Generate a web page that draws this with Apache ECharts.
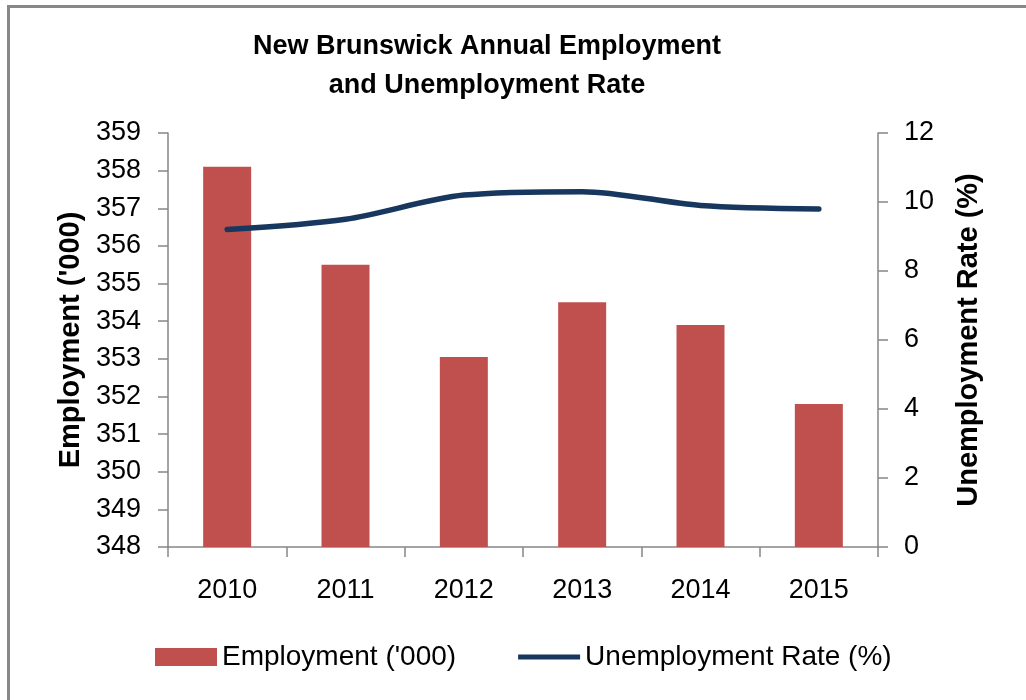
<!DOCTYPE html>
<html><head><meta charset="utf-8">
<script src="https://cdn.jsdelivr.net/npm/echarts@6/dist/echarts.min.js"></script>
<style>
html,body{margin:0;padding:0;background:#fff;overflow:hidden}
#frame{position:absolute;left:7px;top:5px;width:1100px;height:800px;border-left:3px solid #888;border-top:3px solid #888;box-sizing:border-box}
#c{position:absolute;left:0;top:0;width:1026px;height:700px}
</style></head><body>
<div id="frame"></div>
<div id="c"></div>
<script>
const years = ['2010','2011','2012','2013','2014','2015'];
const employment = [358.1, 355.5, 353.05, 354.5, 353.9, 351.8];
const unemploymentRate = [9.2, 9.5, 10.2, 10.3, 9.9, 9.8];
const titleText = 'New Brunswick Annual Employment\nand Unemployment Rate';
const FONT = "'Liberation Sans', Arial, sans-serif";
const axisGrey = '#868686';

const chart = echarts.init(document.getElementById('c'));
chart.setOption({
  animation: false,
  title: {
    text: titleText, left: 482, top: 22, textAlign: 'center',
    textStyle: {fontFamily: FONT, fontSize: 27, fontWeight: 'bold', color: '#000', lineHeight: 39}
  },
  grid: {left: 168, right: 148, top: 133, bottom: 153},
  legend: {
    bottom: 24, left: 150, itemGap: 62, itemWidth: 62, itemHeight: 18,
    textStyle: {fontFamily: FONT, fontSize: 28, color: '#000', padding: [0,0,0,0]},
    data: [
      {name: "Employment ('000)", icon: 'rect'},
      {name: 'Unemployment Rate (%)', icon: 'path://M0,6.5 L62,6.5 L62,11.5 L0,11.5 Z', itemStyle: {color: '#17375E'}}
    ]
  },
  xAxis: {
    type: 'category', data: years,
    axisLine: {lineStyle: {color: axisGrey, width: 1.5}},
    axisTick: {show: true, length: 10, lineStyle: {color: axisGrey, width: 1.5}},
    axisLabel: {fontFamily: FONT, fontSize: 27, color: '#000', margin: 30}
  },
  yAxis: [
    {
      type: 'value', min: 348, max: 359, interval: 1,
      name: "Employment ('000)", nameLocation: 'middle', nameGap: 70,
      nameTextStyle: {fontFamily: FONT, fontSize: 29, fontWeight: 'bold', color: '#000'},
      axisLine: {show: true, lineStyle: {color: axisGrey, width: 1.5}},
      axisTick: {show: true, length: 10, lineStyle: {color: axisGrey, width: 1.5}},
      axisLabel: {fontFamily: FONT, fontSize: 27, color: '#000', margin: 27},
      splitLine: {show: false}
    },
    {
      type: 'value', min: 0, max: 12, interval: 2, position: 'right',
      name: 'Unemployment Rate (%)', nameLocation: 'middle', nameGap: 76, nameRotate: 90,
      nameTextStyle: {fontFamily: FONT, fontSize: 29, fontWeight: 'bold', color: '#000'},
      axisLine: {show: true, lineStyle: {color: axisGrey, width: 1.5}},
      axisTick: {show: true, length: 10, lineStyle: {color: axisGrey, width: 1.5}},
      axisLabel: {fontFamily: FONT, fontSize: 27, color: '#000', margin: 26},
      splitLine: {show: false}
    }
  ],
  series: [
    {
      name: "Employment ('000)", type: 'bar', data: employment, yAxisIndex: 0,
      barWidth: 48, itemStyle: {color: '#C0504D'}
    },
    {
      name: 'Unemployment Rate (%)', type: 'line', data: unemploymentRate, yAxisIndex: 1,
      smooth: 0.3, symbol: 'none', lineStyle: {color: '#17375E', width: 5.5, cap: 'round'},
      itemStyle: {color: '#17375E'}
    }
  ]
});
</script>
</body></html>
